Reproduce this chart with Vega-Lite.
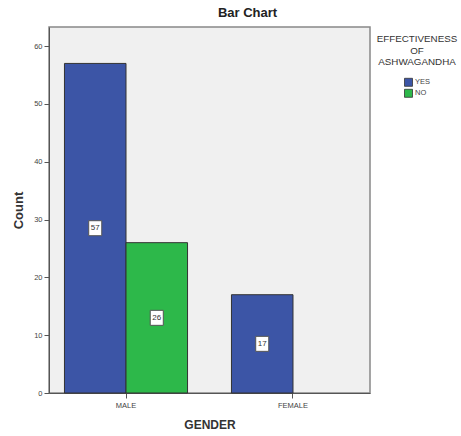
{
  "$schema": "https://vega.github.io/schema/vega-lite/v6.json",
  "autosize": "none",
  "width": 321,
  "height": 366,
  "padding": {"left": 49, "top": 27, "right": 91, "bottom": 43},
  "background": "white",
  "title": {
    "text": "Bar Chart",
    "font": "Liberation Sans",
    "fontSize": 13,
    "fontWeight": "bold",
    "color": "#222",
    "anchor": "middle",
    "dx": 38,
    "offset": 7
  },
  "config": {
    "view": {"fill": "#f0f0f0", "stroke": "#888", "strokeWidth": 1.5},
    "font": "Liberation Sans"
  },
  "data": {
    "values": [
      {"GENDER": "MALE", "EFFECTIVENESS": "YES", "Count": 57},
      {"GENDER": "MALE", "EFFECTIVENESS": "NO", "Count": 26},
      {"GENDER": "FEMALE", "EFFECTIVENESS": "YES", "Count": 17}
    ]
  },
  "encoding": {
    "x": {
      "field": "GENDER",
      "type": "nominal",
      "sort": ["MALE", "FEMALE"],
      "scale": {"paddingInner": 0.263, "paddingOuter": 0.0926},
      "axis": {
        "title": "GENDER",
        "titleFont": "Liberation Sans",
        "titleFontSize": 12,
        "titleFontWeight": "bold",
        "titleColor": "#333",
        "titlePadding": 11,
        "labelAngle": 0,
        "labelFont": "Liberation Sans",
        "labelFontSize": 7.5,
        "labelColor": "#444",
        "labelPadding": 3,
        "domainColor": "#555",
        "tickColor": "#555",
        "tickSize": 5
      }
    },
    "xOffset": {
      "field": "EFFECTIVENESS",
      "type": "nominal",
      "sort": ["YES", "NO"],
      "scale": {"paddingInner": 0, "paddingOuter": 0}
    }
  },
  "layer": [
    {
      "mark": {"type": "bar", "stroke": "#333", "strokeWidth": 1},
      "encoding": {
        "y": {
          "field": "Count",
          "type": "quantitative",
          "scale": {"domain": [0, 63.3], "nice": false},
          "axis": {
            "title": "Count",
            "titleFont": "Liberation Sans",
            "titleFontSize": 13,
            "titleFontWeight": "bold",
            "titleColor": "#333",
            "titleX": -24,
            "titleY": 183,
            "values": [0, 10, 20, 30, 40, 50, 60],
            "grid": false,
            "labelFont": "Liberation Sans",
            "labelFontSize": 7.5,
            "labelColor": "#444",
            "labelPadding": 2,
            "domainColor": "#555",
            "tickColor": "#555",
            "tickSize": 5
          }
        },
        "color": {
          "field": "EFFECTIVENESS",
          "type": "nominal",
          "sort": ["YES", "NO"],
          "scale": {"domain": ["YES", "NO"], "range": ["#3c55a6", "#2db84a"]},
          "legend": {
            "title": ["EFFECTIVENESS", "OF", "ASHWAGANDHA"],
            "orient": "none",
            "legendX": 328,
            "legendY": 7,
            "titleFont": "Liberation Sans",
            "titleFontSize": 9.8,
            "titleFontWeight": "normal",
            "titleColor": "#333",
            "titleAlign": "center",
            "titleAnchor": "middle",
            "titleLineHeight": 11.5,
            "titlePadding": 11,
            "symbolType": "square",
            "symbolSize": 64,
            "symbolStrokeColor": "#333",
            "symbolStrokeWidth": 0.8,
            "symbolOffset": 0,
            "labelFont": "Liberation Sans",
            "labelFontSize": 7.5,
            "labelColor": "#444",
            "labelOffset": 2,
            "rowPadding": -2
          }
        }
      }
    },
    {
      "mark": {
        "type": "point",
        "shape": "M-0.87,-1H0.87V1H-0.87Z",
        "size": 225,
        "filled": true,
        "fill": "white",
        "stroke": "#555",
        "strokeWidth": 1,
        "opacity": 1
      },
      "encoding": {
        "y": {
          "field": "Count",
          "type": "quantitative",
          "scale": {"domain": [0, 126.6], "nice": false},
          "axis": null
        }
      }
    },
    {
      "mark": {"type": "text", "font": "Liberation Sans", "fontSize": 8, "color": "#333", "baseline": "middle", "align": "center"},
      "encoding": {
        "y": {
          "field": "Count",
          "type": "quantitative",
          "scale": {"domain": [0, 126.6], "nice": false},
          "axis": null
        },
        "text": {"field": "Count", "type": "quantitative"}
      }
    }
  ],
  "resolve": {"scale": {"y": "independent"}}
}
